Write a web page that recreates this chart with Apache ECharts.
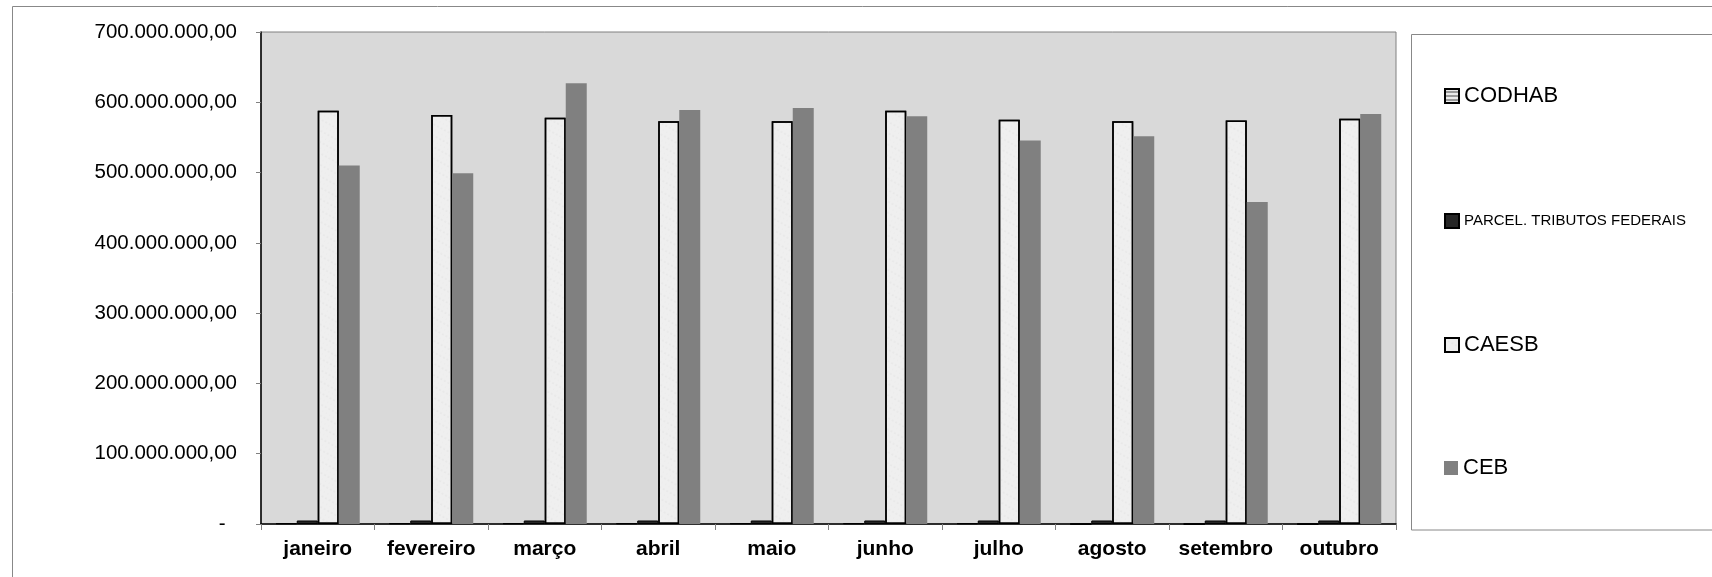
<!DOCTYPE html>
<html>
<head>
<meta charset="utf-8">
<script src="https://cdn.jsdelivr.net/npm/echarts@6/dist/echarts.min.js"></script>
<style>
html,body{margin:0;padding:0;background:#fff;}
#chart{width:1712px;height:577px;}
</style>
</head>
<body>
<div id="chart"></div>
<script>
const months = ['janeiro','fevereiro','março','abril','maio','junho','julho','agosto','setembro','outubro'];
const codhab = [1200000,1200000,1200000,1200000,1200000,1200000,1200000,0,0,0];
const parcel = [5000000,5000000,5000000,5000000,5000000,5000000,5000000,5000000,5000000,5000000];
const caesb = [588000000,582000000,578000000,573000000,573000000,588000000,575000000,573000000,574000000,576500000];
const ceb = [510000000,499000000,627000000,589000000,592000000,580000000,545500000,551500000,458000000,583500000];
const yTicks = [0,100000000,200000000,300000000,400000000,500000000,600000000,700000000];

function fmt(v){
  if (v === 0) return '-  ';
  const s = String(Math.round(v)).replace(/\B(?=(\d{3})+(?!\d))/g,'.');
  return s + ',00';
}

const chart = echarts.init(document.getElementById('chart'), null, {renderer:'canvas'});
const font = 'Liberation Sans, Arial, sans-serif';
const legendBase = {
  orient:'vertical', left:1444, padding:0, itemGap:0, itemWidth:14, itemHeight:14,
  icon:'rect', selectedMode:false
};
chart.setOption({
  animation:false,
  backgroundColor:'#fff',
  textStyle:{fontFamily:font, color:'#000'},
  graphic:[
    {type:'rect', shape:{x:12.5,y:6.5,width:1800,height:700}, style:{fill:'none',stroke:'#888',lineWidth:1}, z:-10},
    {type:'rect', shape:{x:1411.5,y:34.5,width:400,height:495.5}, style:{fill:'none',stroke:'#888',lineWidth:1}, z:-10}
  ],
  legend:[
    Object.assign({}, legendBase, {data:['CODHAB'], top:84, textStyle:{fontSize:22, lineHeight:24, fontFamily:font, color:'#000'}}),
    Object.assign({}, legendBase, {data:['PARCEL. TRIBUTOS FEDERAIS'], top:213, textStyle:{fontSize:15, lineHeight:15, fontFamily:font, color:'#000'}}),
    Object.assign({}, legendBase, {data:['CAESB'], top:333, textStyle:{fontSize:22, lineHeight:24, fontFamily:font, color:'#000'}}),
    Object.assign({}, legendBase, {data:['CEB'], top:456, textStyle:{fontSize:22, lineHeight:24, fontFamily:font, color:'#000'}})
  ],
  grid:{left:261, top:32, right:316, bottom:53, show:true, backgroundColor:'#d9d9d9', borderColor:'#808080', borderWidth:1},
  xAxis:{
    type:'category', data:months, boundaryGap:true,
    axisLine:{show:true, lineStyle:{color:'#000', width:1.5}},
    axisTick:{show:true, interval:0, length:6, lineStyle:{color:'#808080'}},
    axisLabel:{interval:0, fontSize:21, fontWeight:'bold', color:'#000', margin:15, fontFamily:font}
  },
  yAxis:{
    type:'value', min:0, max:700000000, interval:100000000,
    axisLine:{show:true, lineStyle:{color:'#000', width:1.5}},
    axisTick:{show:true, length:5, lineStyle:{color:'#808080'}},
    splitLine:{show:false},
    axisLabel:{fontSize:20.5, color:'#000', margin:24, formatter:fmt, fontFamily:font}
  },
  series:[
    {name:'CODHAB', type:'bar', data:codhab, barGap:'0%', barCategoryGap:'26%',
     itemStyle:{color:'#9a9a9a', borderColor:'#000', borderWidth:1,
       decal:{symbol:'rect', dashArrayX:[1,0], dashArrayY:[2,2], rotation:0, color:'rgba(255,255,255,0.8)', symbolSize:1}}},
    {name:'PARCEL. TRIBUTOS FEDERAIS', type:'bar', data:parcel, barGap:'0%', barCategoryGap:'26%',
     itemStyle:{color:'#262626', borderColor:'#000', borderWidth:1}},
    {name:'CAESB', type:'bar', data:caesb, barGap:'0%', barCategoryGap:'26%',
     itemStyle:{color:'#efefef', borderColor:'#000', borderWidth:1.5,
       decal:{symbol:'circle', symbolSize:0.6, dashArrayX:[[1,3],[2,2]], dashArrayY:[2,3], rotation:0.5, color:'rgba(190,190,190,0.5)'}}},
    {name:'CEB', type:'bar', data:ceb, barGap:'0%', barCategoryGap:'26%',
     itemStyle:{color:'#808080', borderWidth:0}}
  ]
});
</script>
</body>
</html>
